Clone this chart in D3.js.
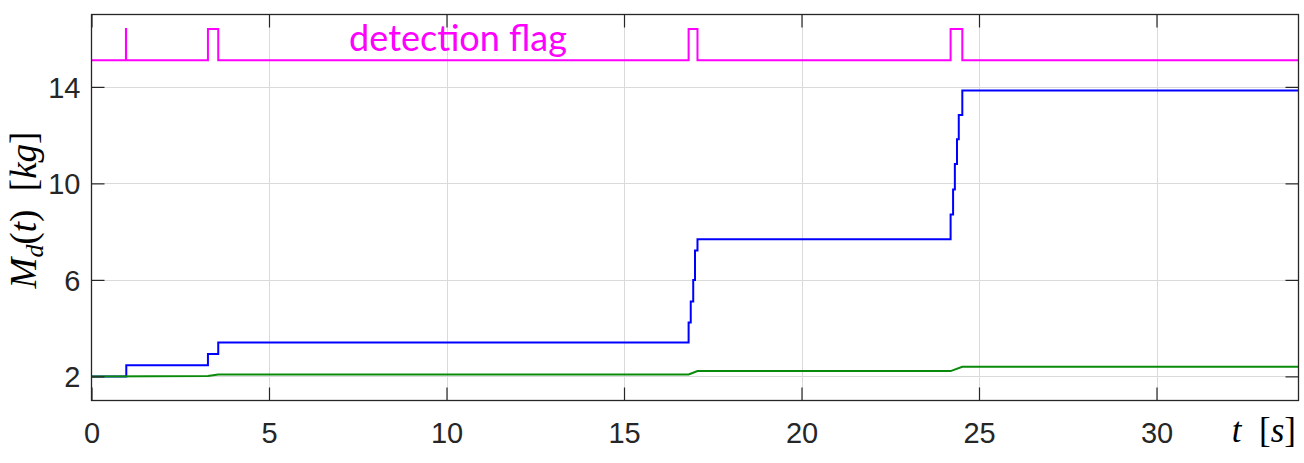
<!DOCTYPE html>
<html>
<head>
<meta charset="utf-8">
<script src="https://cdn.jsdelivr.net/npm/d3@7"></script>
<style>
  html, body { margin: 0; padding: 0; background: #fff; }
  svg { display: block; }
</style>
</head>
<body>
<svg id="chart" width="1304" height="463"></svg>
<script>
// ---- data ----
const xTicks = [0, 5, 10, 15, 20, 25, 30];
const yTicks = [2, 6, 10, 14];

// detection flag (step, held after each time)
const flagT = [0, 0.97, 0.975, 3.28, 3.57, 16.82, 17.07, 24.2, 24.53, 34];
const flagV = [15.1, 16.4, 15.1, 16.4, 15.1, 16.4, 15.1, 16.4, 15.1, 15.1];

// estimated mass (blue, step)
const massT = [0, 0.98, 3.28, 3.57, 16.82, 16.88, 16.95, 17.0, 17.07, 24.2, 24.27, 24.32, 24.38, 24.43, 24.53, 34];
const massV = [2.0, 2.46, 2.93, 3.4, 4.23, 5.1, 6.0, 7.22, 7.68, 8.71, 9.75, 10.8, 11.83, 12.83, 13.85, 13.85];

// green series (linear)
const greenT = [0, 3.28, 3.57, 16.82, 17.07, 24.2, 24.53, 34];
const greenV = [2.0, 2.02, 2.08, 2.08, 2.22, 2.22, 2.4, 2.4];

// ---- layout ----
const L = 91.5, R = 1298.5, T = 14.5, B = 400.5;
const svg = d3.select("#chart");
const x = d3.scaleLinear().domain([0, 34]).range([L, R]);
const y = d3.scaleLinear().domain([1, 17]).range([B, T]);

// grid
const grid = svg.append("g");
grid.selectAll("line.gx").data(xTicks.filter(d => d > 0)).join("line")
  .attr("x1", d => Math.round(x(d)) + 0.5).attr("x2", d => Math.round(x(d)) + 0.5)
  .attr("y1", T).attr("y2", B).attr("stroke", "#dadada").attr("stroke-width", 1);
grid.selectAll("line.gy").data(yTicks).join("line")
  .attr("y1", d => Math.round(y(d)) + 0.5).attr("y2", d => Math.round(y(d)) + 0.5)
  .attr("x1", L).attr("x2", R).attr("stroke", "#dadada").attr("stroke-width", 1);

// series
const zip = (a, b) => a.map((t, i) => [t, b[i]]);
const stepLine = d3.line().x(d => x(d[0])).y(d => y(d[1])).curve(d3.curveStepAfter);
const linLine = d3.line().x(d => x(d[0])).y(d => y(d[1]));

svg.append("path").datum(zip(massT, massV)).attr("d", stepLine)
  .attr("fill", "none").attr("stroke", "#0000ff").attr("stroke-width", 2);
svg.append("path").datum(zip(greenT, greenV)).attr("d", linLine)
  .attr("fill", "none").attr("stroke", "#0a8a0a").attr("stroke-width", 2);
svg.append("path").datum(zip(flagT, flagV)).attr("d", stepLine)
  .attr("fill", "none").attr("stroke", "#ff00ff").attr("stroke-width", 2);

// axes (ticks inside, box)
const tickLen = 13;
const axB = svg.append("g").attr("transform", `translate(0,${B})`)
  .call(d3.axisBottom(x).tickValues(xTicks).tickSizeInner(-tickLen).tickSizeOuter(0).tickFormat(d3.format("d")));
const axT = svg.append("g").attr("transform", `translate(0,${T})`)
  .call(d3.axisTop(x).tickValues(xTicks).tickSizeInner(-tickLen).tickSizeOuter(0).tickFormat(""));
const axL = svg.append("g").attr("transform", `translate(${L},0)`)
  .call(d3.axisLeft(y).tickValues(yTicks).tickSizeInner(-tickLen).tickSizeOuter(0).tickPadding(10).tickFormat(d3.format("d")));
const axR = svg.append("g").attr("transform", `translate(${R},0)`)
  .call(d3.axisRight(y).tickValues(yTicks).tickSizeInner(-tickLen).tickSizeOuter(0).tickFormat(""));
[axB, axT, axL, axR].forEach(g => {
  g.select(".domain").remove();
  g.selectAll(".tick line").attr("stroke", "#262626").attr("stroke-width", 1.2);
  g.selectAll("text").attr("fill", "#262626")
    .style("font-family", "'Liberation Sans', Arial, Helvetica, sans-serif").style("font-size", "29px");
});
axB.selectAll("text").attr("dy", "0.71em").attr("y", 22);
axL.selectAll("text").attr("dy", "0.36em").attr("x", -11);

svg.append("rect").attr("x", L).attr("y", T).attr("width", R - L).attr("height", B - T)
  .attr("fill", "none").attr("stroke", "#262626").attr("stroke-width", 1.3);

// flag label
svg.append("text").attr("x", 458).attr("y", 51).attr("text-anchor", "middle")
  .attr("fill", "#ff00ff").style("font-family", "Lato, 'Open Sans', sans-serif").style("font-size", "36px")
  .text("detection flag");

// y label (LaTeX style)
const serif = "'Liberation Serif', 'DejaVu Serif', serif";
const yl = svg.append("text").attr("transform", "translate(36,210) rotate(-90)")
  .attr("text-anchor", "middle").attr("fill", "#000")
  .style("font-family", serif).style("font-size", "37px");
yl.append("tspan").style("font-style", "italic").text("M");
yl.append("tspan").style("font-style", "italic").style("font-size", "26px").attr("dy", 7).text("d");
yl.append("tspan").attr("dy", -7).text("(");
yl.append("tspan").style("font-style", "italic").text("t");
yl.append("tspan").text(")\u2002[");
yl.append("tspan").style("font-style", "italic").text("kg");
yl.append("tspan").text("]");

// x label
const xl = svg.append("text").attr("x", 1296).attr("y", 442).attr("text-anchor", "end")
  .attr("fill", "#000").style("font-family", serif).style("font-size", "35px");
xl.append("tspan").style("font-style", "italic").text("t");
xl.append("tspan").text("\u2002[");
xl.append("tspan").style("font-style", "italic").text("s");
xl.append("tspan").text("]");
</script>
</body>
</html>
